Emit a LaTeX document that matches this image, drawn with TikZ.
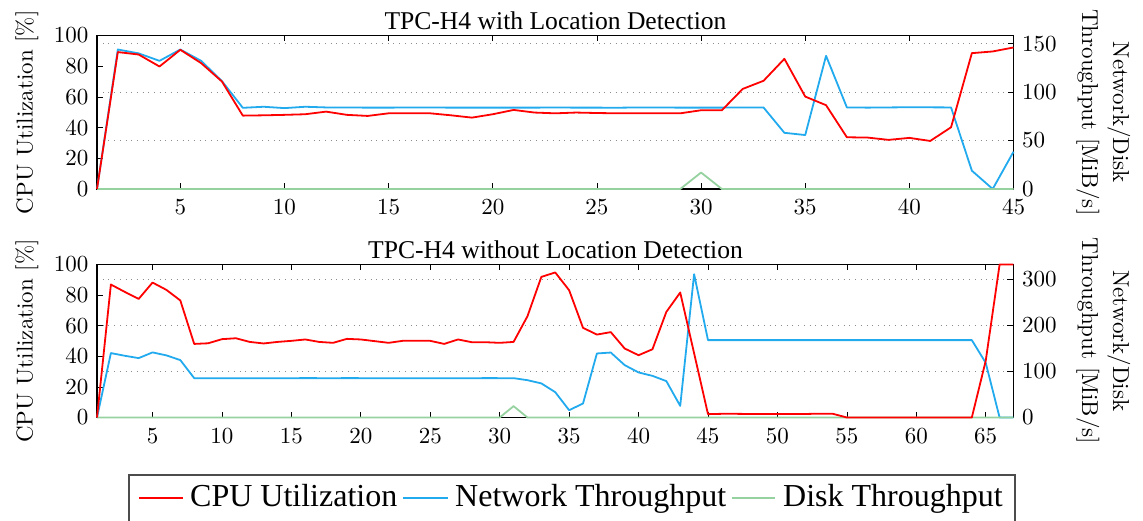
\documentclass[tikz,border=0pt]{standalone}
\usepackage{fontspec}
\setmainfont{lmroman10-regular}[Extension=.otf]
\newfontfamily\timesf{Liberation Serif}
\definecolor{cpured}{RGB}{255,0,0}
\definecolor{netblue}{RGB}{34,170,238}
\definecolor{diskgreen}{RGB}{150,210,160}
\tikzset{
  axisframe/.style={line width=1.1pt, black},
  tickmark/.style={line width=0.7pt, black},
  gridline/.style={black!45, line width=0.8pt, dash pattern=on 0.8pt off 4.9pt},
  series/.style={line width=1.8pt, line join=round},
  cpu/.style={series, cpured},
  net/.style={series, netblue},
  disk/.style={series, diskgreen},
  ticklab/.style={font=\fontsize{23}{27}\selectfont, inner sep=0pt},
  axlab/.style={font=\fontsize{23}{27}\selectfont, inner sep=0pt},
  ttl/.style={font=\timesf\fontsize{25.6}{30}\selectfont, inner sep=0pt, anchor=base},
  legtext/.style={font=\timesf\fontsize{32}{38}\selectfont, inner sep=0pt, anchor=base west},
  legframe/.style={black!70, line width=1.1pt},
  % data coordinate systems of the two panels
  topcpu/.style={shift={(76.17,189)}, x=20.83pt, y=1.535pt},
  topnet/.style={shift={(76.17,189)}, x=20.83pt, y=0.9687pt},
  botcpu/.style={shift={(83.114,417.5)}, x=13.886pt, y=1.53pt},
  botnet/.style={shift={(83.114,417.5)}, x=13.886pt, y=0.4607pt},
}
\begin{document}
\begin{tikzpicture}[x=1pt,y=-1pt]
\useasboundingbox (0,0) rectangle (1143,521);
\clip (0,0) rectangle (1143,521);

%% ---------------- upper panel ----------------
\node[ttl] (title1) at (555.5,30) {TPC-H4 with Location Detection};
\begin{scope}[topnet]
  \foreach \v in {50,100,150} \draw[gridline] (1,\v) -- (45,\v);
\end{scope}
\begin{scope}[topcpu]
  \draw[axisframe] (1,0) rectangle (45,100);
  \foreach \t in {5,10,...,45} {
    \draw[tickmark] (\t,0) -- ++(0,6pt);
    \draw[tickmark] (\t,100) -- ++(0,-6pt);
    \node[ticklab, anchor=base] (ax\t) at (\t,0) [yshift=-26pt] {\t};
  }
  \foreach \v in {0,20,...,100} {
    \draw[tickmark] (1,\v) -- ++(6pt,0);
    \node[ticklab, anchor=east] (al\v) at (1,\v) [xshift=-8.5pt] {\v};
  }
\end{scope}
\begin{scope}[topnet]
  \foreach \v in {0,50,100,150} {
    \draw[tickmark] (45,\v) -- ++(-6pt,0);
    \node[ticklab, anchor=west] (ar\v) at (45,\v) [xshift=8.5pt] {\v};
  }
\end{scope}
\begin{scope}
  \clip (96,34.5) rectangle (1014.5,190);
  \begin{scope}[topnet]
    \draw[net] plot coordinates {(1,0) (2,144) (3,140) (4,132.3) (5,144) (6,132.3) (7,111.3) (8,83.8) (9,84.9) (10,83.5) (11,84.9) (12,84.2) (13,84.1) (14,84) (15,84) (16,84.1) (17,84.1) (18,84) (19,84) (20,84) (21,84) (22,84) (23,84.1) (24,84) (25,84) (26,83.9) (27,84.2) (28,84.1) (29,84) (30,84) (31,84) (32,84.2) (33,84.1) (34,58) (35,55.7) (36,137.5) (37,84.2) (38,84) (39,84.2) (40,84.4) (41,84.3) (42,84.2) (43,18.9) (44,0) (45,38.5)};
    \draw[disk] plot coordinates {(1,0) (29,0) (30,17) (31,0) (45,0)};
  \end{scope}
  \begin{scope}[topcpu]
    \draw[cpu] plot coordinates {(1,0) (2,89.2) (3,87.6) (4,79.8) (5,90.7) (6,82) (7,70) (8,47.8) (9,48) (10,48.3) (11,48.7) (12,50.4) (13,48.3) (14,47.6) (15,49.3) (16,49.3) (17,49.3) (18,48) (19,46.5) (20,48.7) (21,51.5) (22,49.8) (23,49.3) (24,49.8) (25,49.5) (26,49.3) (27,49.3) (28,49.3) (29,49.3) (30,51.3) (31,51.3) (32,65.2) (33,70.5) (34,84.8) (35,60.2) (36,54.6) (37,33.7) (38,33.5) (39,32) (40,33.3) (41,31.3) (42,40.2) (43,88.5) (44,89.6) (45,92.2)};
  \end{scope}
\end{scope}
\node[axlab, rotate=90, anchor=base] (ylab1) at (32.5,112.3) {CPU Utilization [\%]};
\node[axlab, rotate=-90, anchor=base] (yrA1) at (1113,112.3) {Network/Disk};
\node[axlab, rotate=-90, anchor=base] (yrB1) at (1082,112.3) {Throughput [MiB/s]};

%% ---------------- lower panel ----------------
\node[ttl] (title2) at (555.5,259) {TPC-H4 without Location Detection};
\begin{scope}[botnet]
  \foreach \v in {100,200,300} \draw[gridline] (1,\v) -- (67,\v);
\end{scope}
\begin{scope}[botcpu]
  \draw[axisframe] (1,0) rectangle (67,100);
  \foreach \t in {5,10,...,65} {
    \draw[tickmark] (\t,0) -- ++(0,6pt);
    \draw[tickmark] (\t,100) -- ++(0,-6pt);
    \node[ticklab, anchor=base] (bx\t) at (\t,0) [yshift=-26pt] {\t};
  }
  \foreach \v in {0,20,...,100} {
    \draw[tickmark] (1,\v) -- ++(6pt,0);
    \node[ticklab, anchor=east] (bl\v) at (1,\v) [xshift=-8.5pt] {\v};
  }
\end{scope}
\begin{scope}[botnet]
  \foreach \v in {0,100,200,300} {
    \draw[tickmark] (67,\v) -- ++(-6pt,0);
    \node[ticklab, anchor=west] (br\v) at (67,\v) [xshift=8.5pt] {\v};
  }
\end{scope}
\begin{scope}
  \clip (96,263.5) rectangle (1014.5,418.5);
  \begin{scope}[botnet]
    \draw[net] plot coordinates {(1,0) (2,139.8) (3,134) (4,128.9) (5,141.3) (6,134.8) (7,124.6) (8,85.4) (9,85.4) (10,85.2) (11,85.2) (12,85.4) (13,85.4) (14,85.3) (15,85.3) (16,85.5) (17,85.4) (18,85.3) (19,85.5) (20,85.4) (21,85.2) (22,85.4) (23,85.4) (24,85.3) (25,85.3) (26,85.4) (27,85.4) (28,85.2) (29,85.5) (30,85.4) (31,85.4) (32,81) (33,74) (34,55) (35,15.9) (36,30.4) (37,139) (38,141) (39,113.7) (40,97.8) (41,90.4) (42,79) (43,25.2) (44,311) (45,168) (64,168) (65,118.7) (66,0) (67,0)};
    \draw[disk] plot coordinates {(1,0) (30,0) (31,24.6) (32,0) (67,0)};
  \end{scope}
  \begin{scope}[botcpu]
    \draw[cpu] plot coordinates {(1,0) (2,86.9) (3,82.1) (4,77.5) (5,88.2) (6,83.4) (7,76.5) (8,48.1) (9,48.5) (10,51.2) (11,51.8) (12,49.4) (13,48.4) (14,49.4) (15,50.1) (16,51) (17,49.4) (18,48.8) (19,51.4) (20,51) (21,49.9) (22,48.8) (23,50.1) (24,50.1) (25,50.1) (26,48.1) (27,51) (28,49.2) (29,49.2) (30,48.8) (31,49.4) (32,66.2) (33,91.9) (34,94.8) (35,83.2) (36,58.6) (37,54.2) (38,55.8) (39,45.1) (40,40.7) (41,44.6) (42,69) (43,81.7) (44,42) (45,2.2) (46,2.4) (47,2.4) (48,2.3) (49,2.3) (50,2.3) (51,2.3) (52,2.3) (53,2.5) (54,2.4) (55,0) (64,0) (65,37) (66,100) (67,100)};
  \end{scope}
\end{scope}
\node[axlab, rotate=90, anchor=base] (ylab2) at (32.5,341) {CPU Utilization [\%]};
\node[axlab, rotate=-90, anchor=base] (yrA2) at (1113,341) {Network/Disk};
\node[axlab, rotate=-90, anchor=base] (yrB2) at (1082,341) {Throughput [MiB/s]};

%% ---------------- legend ----------------
\draw[legframe] (129,475) rectangle (1015,545);
\coordinate (lcA) at (139,498); \coordinate (lcB) at (183,498);
\coordinate (lnA) at (403,498); \coordinate (lnB) at (448,498);
\coordinate (ldA) at (732,498); \coordinate (ldB) at (775,498);
\draw[cpu] (lcA) -- (lcB);
\node[legtext] (lgcpu) at (190,506.5) {CPU Utilization};
\draw[net] (lnA) -- (lnB);
\node[legtext] (lgnet) at (455,506.5) {Network Throughput};
\draw[disk] (ldA) -- (ldB);
\node[legtext] (lgdisk) at (783,506.5) {Disk Throughput};
\end{tikzpicture}
\end{document}
